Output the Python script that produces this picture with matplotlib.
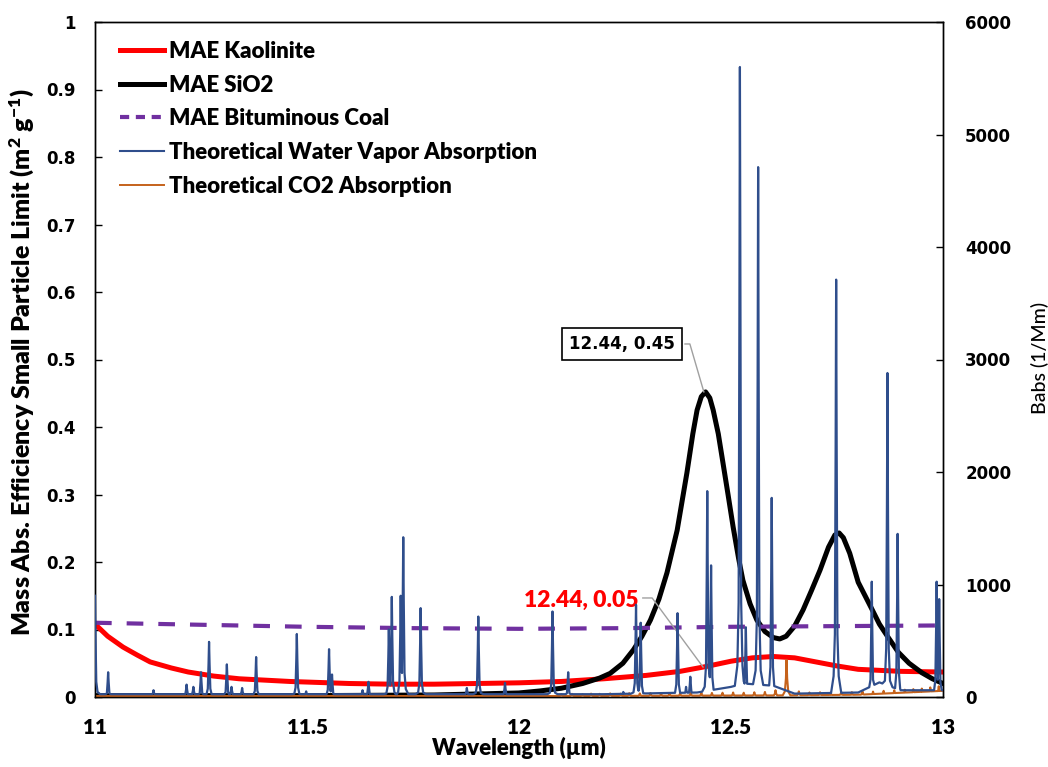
import numpy as np
import matplotlib
matplotlib.use("Agg")
import matplotlib.pyplot as plt
from matplotlib.lines import Line2D

# ---------------- data ----------------
kaol_x = [11.0, 11.03, 11.066, 11.1, 11.13, 11.18, 11.22, 11.28, 11.34, 11.46, 11.6, 11.7, 11.8, 11.9,
          12.0, 12.1, 12.2, 12.3, 12.38, 12.44, 12.5, 12.55, 12.6, 12.65, 12.7, 12.75, 12.8, 12.9, 13.0]
kaol_y = [0.108, 0.09, 0.074, 0.062, 0.052, 0.043, 0.037, 0.031, 0.027, 0.023, 0.02, 0.019, 0.019, 0.02,
          0.021, 0.023, 0.027, 0.032, 0.038, 0.045, 0.053, 0.058, 0.06, 0.058, 0.052, 0.046, 0.041, 0.038, 0.037]

sio2_x = [11.0, 11.5, 11.8, 12.0, 12.05, 12.1, 12.15, 12.19, 12.215, 12.245, 12.27, 12.29, 12.31, 12.33,
          12.349, 12.373, 12.396, 12.41, 12.42, 12.43, 12.44, 12.45, 12.458, 12.47, 12.48, 12.493,
          12.505, 12.518, 12.528, 12.545, 12.561, 12.58, 12.6, 12.615, 12.63, 12.65, 12.67, 12.69,
          12.71, 12.73, 12.745, 12.755, 12.765, 12.78, 12.8, 12.83, 12.85, 12.87, 12.895, 12.92,
          12.95, 12.975, 13.0]
sio2_y = [0.002, 0.002, 0.003, 0.006, 0.009, 0.013, 0.02, 0.028, 0.035, 0.05, 0.07, 0.09, 0.114, 0.145,
          0.184, 0.247, 0.332, 0.39, 0.425, 0.445, 0.452, 0.443, 0.425, 0.39, 0.351, 0.3,
          0.252, 0.205, 0.173, 0.138, 0.114, 0.097, 0.088, 0.086, 0.09, 0.105, 0.129, 0.158,
          0.188, 0.222, 0.24, 0.243, 0.236, 0.213, 0.17, 0.133, 0.108, 0.089, 0.066, 0.05,
          0.036, 0.027, 0.02]

coal_x = [11.0, 11.25, 11.5, 11.75, 12.0, 12.25, 12.5, 12.75, 13.0]
coal_y = [0.110, 0.107, 0.104, 0.102, 0.101, 0.102, 0.104, 0.105, 0.106]

# water vapour absorption lines (wavelength, Babs 1/Mm)
wv_pos = [11.000, 11.031, 11.138, 11.216, 11.232, 11.250, 11.269, 11.311, 11.322, 11.347, 11.380,
          11.476, 11.498, 11.552, 11.559, 11.631, 11.645, 11.693, 11.700, 11.721, 11.727, 11.768,
          11.877, 11.904, 11.967, 12.079, 12.116, 12.246, 12.276, 12.287, 12.374, 12.394, 12.404,
          12.444, 12.453, 12.521, 12.535, 12.564, 12.596, 12.748, 12.832, 12.869, 12.893, 12.985, 12.991]
wv_height = [900, 220, 60, 110, 90, 220, 490, 290, 90, 80, 355,
             560, 50, 425, 200, 60, 135, 600, 890, 900, 1420, 790,
             80, 715, 125, 760, 220, 45, 820, 660, 745, 90, 180,
             1830, 1170, 5600, 620, 4710, 1770, 3710, 1025, 2880, 1450, 1025, 870]
wv_base_x = [11.0, 12.2, 12.42, 12.5, 12.53, 12.6, 12.65, 12.8, 12.85, 12.9, 13.0]
wv_base_y = [25, 25, 40, 90, 120, 100, 30, 40, 130, 60, 60]

# CO2 absorption lines
co2_pos = [12.10, 12.125, 12.15, 12.17, 12.19, 12.215, 12.24, 12.26, 12.285, 12.31,
           12.335, 12.355, 12.38, 12.405, 12.43, 12.455, 12.48, 12.505, 12.53, 12.555,
           12.58, 12.605, 12.631, 12.66, 12.685, 12.71, 12.735, 12.76, 12.785, 12.81,
           12.835, 12.86, 12.885, 12.91, 12.93, 12.95, 12.97, 12.99]
co2_height = [25, 28, 25, 30, 28, 32, 30, 34, 32, 35,
              32, 36, 34, 36, 38, 36, 38, 40, 38, 42,
              45, 60, 330, 50, 40, 42, 40, 45, 43, 50,
              48, 55, 60, 65, 70, 75, 85, 95]
co2_base_x = [11.0, 12.05, 12.6, 12.8, 13.0]
co2_base_y = [8, 8, 14, 20, 55]

x_ticks = [11, 11.5, 12, 12.5, 13]
x_tick_labels = ["11", "11.5", "12", "12.5", "13"]
y_ticks = [0, 0.1, 0.2, 0.3, 0.4, 0.5, 0.6, 0.7, 0.8, 0.9, 1]
y_tick_labels = ["0", "0.1", "0.2", "0.3", "0.4", "0.5", "0.6", "0.7", "0.8", "0.9", "1"]
y2_ticks = [0, 1000, 2000, 3000, 4000, 5000, 6000]
y2_tick_labels = ["0", "1000", "2000", "3000", "4000", "5000", "6000"]


def line_spectrum(pos, height, base_x, base_y, offs, fracs):
    """Polyline through the listed line centres/heights on top of a baseline."""
    offs = np.asarray(offs)
    fracs = np.asarray(fracs)
    grid = np.concatenate([np.asarray(base_x)] + [p + offs for p in pos])
    grid = np.unique(np.clip(grid, 11.0, 13.0))
    y = np.interp(grid, base_x, base_y)
    for p, h in zip(pos, height):
        y = np.maximum(y, np.interp(grid, p + offs, h * fracs, left=0, right=0))
    return grid, y


wv_x, wv_y = line_spectrum(wv_pos, wv_height, wv_base_x, wv_base_y,
                           [-0.012, -0.006, -0.003, -0.0012, 0, 0.0012, 0.003, 0.006, 0.012],
                           [0, 0.05, 0.15, 0.6, 1, 0.6, 0.15, 0.05, 0])
co2_x, co2_y = line_spectrum(co2_pos, co2_height, co2_base_x, co2_base_y,
                             [-0.009, -0.004, -0.0015, 0, 0.0015, 0.004, 0.009],
                             [0, 0.15, 0.5, 1, 0.5, 0.15, 0])

# ---------------- fonts / styles ----------------
FAM = "Lato"
HW = 800  # heavy weight to mimic Calibri Bold
plt.rcParams["mathtext.fontset"] = "custom"
plt.rcParams["mathtext.rm"] = "Lato:weight=800"
plt.rcParams["mathtext.it"] = "Lato:weight=800"
plt.rcParams["mathtext.bf"] = "Lato:weight=800"
plt.rcParams["mathtext.default"] = "rm"

RED = "#FF0000"
BLACK = "#000000"
PURPLE = "#7030A0"
BLUE = "#2F4E8C"
BROWN = "#C5621B"

fig = plt.figure(figsize=(10.48, 7.67), dpi=100)
ax = fig.add_axes([95 / 1048, 1 - 697 / 767, (943 - 95) / 1048, (697 - 22) / 767])
ax2 = ax.twinx()

ax.plot(kaol_x, kaol_y, color=RED, lw=3.6, solid_capstyle="round", zorder=3)
ax.plot(sio2_x, sio2_y, color=BLACK, lw=3.6, solid_joinstyle="round", zorder=3)
ax.plot(coal_x, coal_y, color=PURPLE, lw=3.0, dashes=(4, 3.6), zorder=3)

ax2.plot(wv_x, wv_y, color=BLUE, lw=1.6, zorder=3)
ax2.plot(co2_x, co2_y, color=BROWN, lw=1.5, zorder=2)

ax.set_xlim(11, 13)
ax.set_ylim(0, 1)
ax2.set_ylim(0, 6000)

ax.set_xticks(x_ticks)
ax.set_xticklabels(x_tick_labels, family=FAM, fontweight=HW, fontsize=15)
ax.tick_params(axis="x", length=0, pad=15)
ax.set_yticks(y_ticks)
ax.set_yticklabels(y_tick_labels, family="DejaVu Sans", fontweight="bold", fontsize=12)
ax.tick_params(axis="y", direction="in", length=5, width=1, pad=14)
ax2.set_yticks(y2_ticks)
ax2.set_yticklabels(y2_tick_labels, family="DejaVu Sans", fontweight="bold", fontsize=12)
ax2.tick_params(axis="y", direction="in", length=5, width=1, pad=16)

for a in (ax, ax2):
    for s in a.spines.values():
        s.set_color("black")
        s.set_linewidth(1.0)

fig.text(22 / 1048, 1 - 362 / 767, "Mass Abs. Efficiency Small Particle Limit (m$^{2}$ g$^{-1}$)",
         rotation=90, ha="center", va="center", fontsize=18, fontweight=HW, family=FAM)
fig.text(1040 / 1048, 1 - 358 / 767, "Babs (1/Mm)", rotation=90, ha="center", va="center",
         fontsize=14, family=FAM, fontweight=500)
fig.text(519 / 1048, 1 - 748 / 767, "Wavelength (µm)", ha="center", va="center",
         fontsize=16, fontweight=HW, family=FAM)

# annotations
ax.text(12.243, 0.523, "12.44, 0.45", ha="center", va="center", fontsize=12,
        fontweight="bold", family="DejaVu Sans", color="black", zorder=6,
        bbox=dict(boxstyle="square,pad=0.4", fc="white", ec="black", lw=1.2))
ax.plot([12.3915, 12.403, 12.436], [0.523, 0.523, 0.452], color="#A0A0A0", lw=1, zorder=5)
ax.text(12.146, 0.1437, "12.44, 0.05", ha="center", va="center", fontsize=16.5,
        fontweight=HW, family=FAM, color=RED, zorder=6)
ax.plot([12.292, 12.314, 12.434], [0.1467, 0.1467, 0.0444], color="#A0A0A0", lw=1, zorder=5)

handles = [
    Line2D([], [], color=RED, lw=3.6),
    Line2D([], [], color=BLACK, lw=3.6),
    Line2D([], [], color=PURPLE, lw=3.0, dashes=(2.2, 1.6)),
    Line2D([], [], color=BLUE, lw=1.5),
    Line2D([], [], color=BROWN, lw=1.4),
]
labels = ["MAE Kaolinite", "MAE SiO2", "MAE Bituminous Coal",
          "Theoretical Water Vapor Absorption", "Theoretical CO2 Absorption"]
leg = ax2.legend(handles, labels, loc="upper left", bbox_to_anchor=(0.0295, 0.972),
                 frameon=False, prop=dict(family=FAM, weight=HW, size=16),
                 handlelength=2.0, handletextpad=0.2, labelspacing=0.57,
                 borderaxespad=0, borderpad=0)
leg.set_zorder(10)

fig.savefig("out.png", dpi=100)
